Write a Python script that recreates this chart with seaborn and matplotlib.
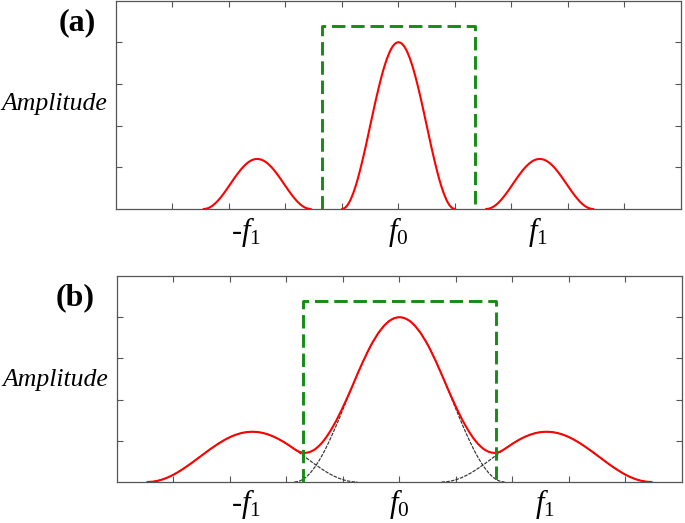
import numpy as np
import pandas as pd
import matplotlib
matplotlib.use("Agg")
import matplotlib.pyplot as plt
import seaborn as sns

# Normalized half-lobe profile at r = 0, 0.025, ..., 1.0
PROFILE = [1.000, 0.998, 0.994, 0.986, 0.976, 0.962, 0.946, 0.926, 0.905, 0.880,
           0.854, 0.825, 0.794, 0.761, 0.727, 0.691, 0.655, 0.617, 0.578, 0.539,
           0.500, 0.461, 0.422, 0.383, 0.345, 0.309, 0.273, 0.239, 0.206, 0.175,
           0.146, 0.120, 0.095, 0.074, 0.054, 0.038, 0.024, 0.014, 0.006, 0.002,
           0.000]

# Panel (a): separated spectral lobes
A_CENTERS = [2.5, 5.0, 7.5]
A_HEIGHTS = [1.2, 4.0, 1.2]
A_HALFWIDTHS = [0.95, 1.0, 0.95]
A_FILTER_X = [3.65, 6.35]
A_FILTER_H = 4.4
A_LABEL_X = [2.30, 5.0, 7.47]

# Panel (b): overlapping lobes
B_CENTERS = [2.396, 5.0, 7.604]
B_HEIGHTS = [1.22, 4.0, 1.22]
B_HALFWIDTH = 1.86
B_FILTER_X = [3.3, 6.7]
B_FILTER_H = 4.4
B_LABEL_X = [2.28, 5.0, 7.58]

LABELS = ["-$f_1$", "$f_0$", "$f_1$"]

sns.set_theme(style="white")
plt.rcParams["font.family"] = ["Liberation Serif", "DejaVu Serif"]
plt.rcParams["mathtext.fontset"] = "custom"
plt.rcParams["mathtext.it"] = "Liberation Serif:italic"
plt.rcParams["mathtext.rm"] = "Liberation Serif"

N = len(PROFILE) - 1
MIRRORED = np.array(PROFILE[::-1][:-1] + PROFILE)
R = np.arange(-N, N + 1) / N


def lobe(c, h, w):
    return c + w * R, h * MIRRORED


fig = plt.figure(figsize=(6.85, 5.23), dpi=100)
ax1 = fig.add_axes([0.1693, 0.6004, 0.8248, 0.3986])
ax2 = fig.add_axes([0.1708, 0.0784, 0.8248, 0.3939])

RED = "#ff0000"
GREEN = "#168c16"


def draw_filter(ax, xs, h):
    df = pd.DataFrame({"x": [xs[0], xs[0], xs[1], xs[1]], "y": [0, h, h, 0]})
    sns.lineplot(data=df, x="x", y="y", ax=ax, estimator=None, sort=False,
                 color=GREEN, lw=2.1, ls=(0, (4.6, 2.0)), zorder=4)


# ---- panel (a)
for c, h, w in zip(A_CENTERS, A_HEIGHTS, A_HALFWIDTHS):
    x, y = lobe(c, h, w)
    sns.lineplot(x=x, y=y, ax=ax1, estimator=None, sort=False, color=RED, lw=1.5, zorder=3)
draw_filter(ax1, A_FILTER_X, A_FILTER_H)

# ---- panel (b)
step = B_HALFWIDTH / N
offsets = [int(round((c - 5.0) / step)) for c in B_CENTERS]
n_half = N + max(abs(o) for o in offsets)
grid_idx = np.arange(-n_half, n_half + 1)
grid_x = 5.0 + grid_idx * step
total = np.zeros(len(grid_idx))
for o, h in zip(offsets, B_HEIGHTS):
    start = o - N + n_half
    total[start:start + 2 * N + 1] += h * MIRRORED
    sns.lineplot(x=5.0 + (o + np.arange(-N, N + 1)) * step, y=h * MIRRORED, ax=ax2,
                 estimator=None, sort=False, color="#333333", lw=0.85,
                 ls=(0, (3.0, 1.0)), zorder=2)
sns.lineplot(x=grid_x, y=total, ax=ax2, estimator=None, sort=False, color=RED, lw=1.5, zorder=3)
draw_filter(ax2, B_FILTER_X, B_FILTER_H)

for ax, lx, ly in [(ax1, A_LABEL_X, -0.11), (ax2, B_LABEL_X, -0.108)]:
    ax.set_xlim(0, 10)
    ax.set_ylim(0, 5)
    ax.set_xticks(np.arange(1, 10))
    ax.set_yticks([1, 2, 3, 4])
    ax.tick_params(direction="in", length=4, width=0.8, color="#555555",
                   top=True, right=True, bottom=True, left=True,
                   labelbottom=False, labelleft=False)
    for sp in ax.spines.values():
        sp.set_color("#555555")
        sp.set_linewidth(0.9)
    ax.set_xlabel("")
    ax.set_ylabel("")
    for xpos, lab in zip(lx, LABELS):
        ax.text(xpos, ly, lab, transform=ax.get_xaxis_transform(), ha="center",
                va="center", fontsize=22, color="black")

fig.text(77 / 685, 1 - 23 / 523, "(a)", ha="center", va="center",
         fontsize=23, fontweight="bold", color="black")
fig.text(75 / 685, 1 - 298 / 523, "(b)", ha="center", va="center",
         fontsize=23, fontweight="bold", color="black")
fig.text(54 / 685, 1 - 104 / 523, "Amplitude", ha="center", va="center",
         fontsize=18.5, style="italic", color="black")
fig.text(55 / 685, 1 - 380 / 523, "Amplitude", ha="center", va="center",
         fontsize=18.5, style="italic", color="black")

fig.savefig("out.png", dpi=100)
